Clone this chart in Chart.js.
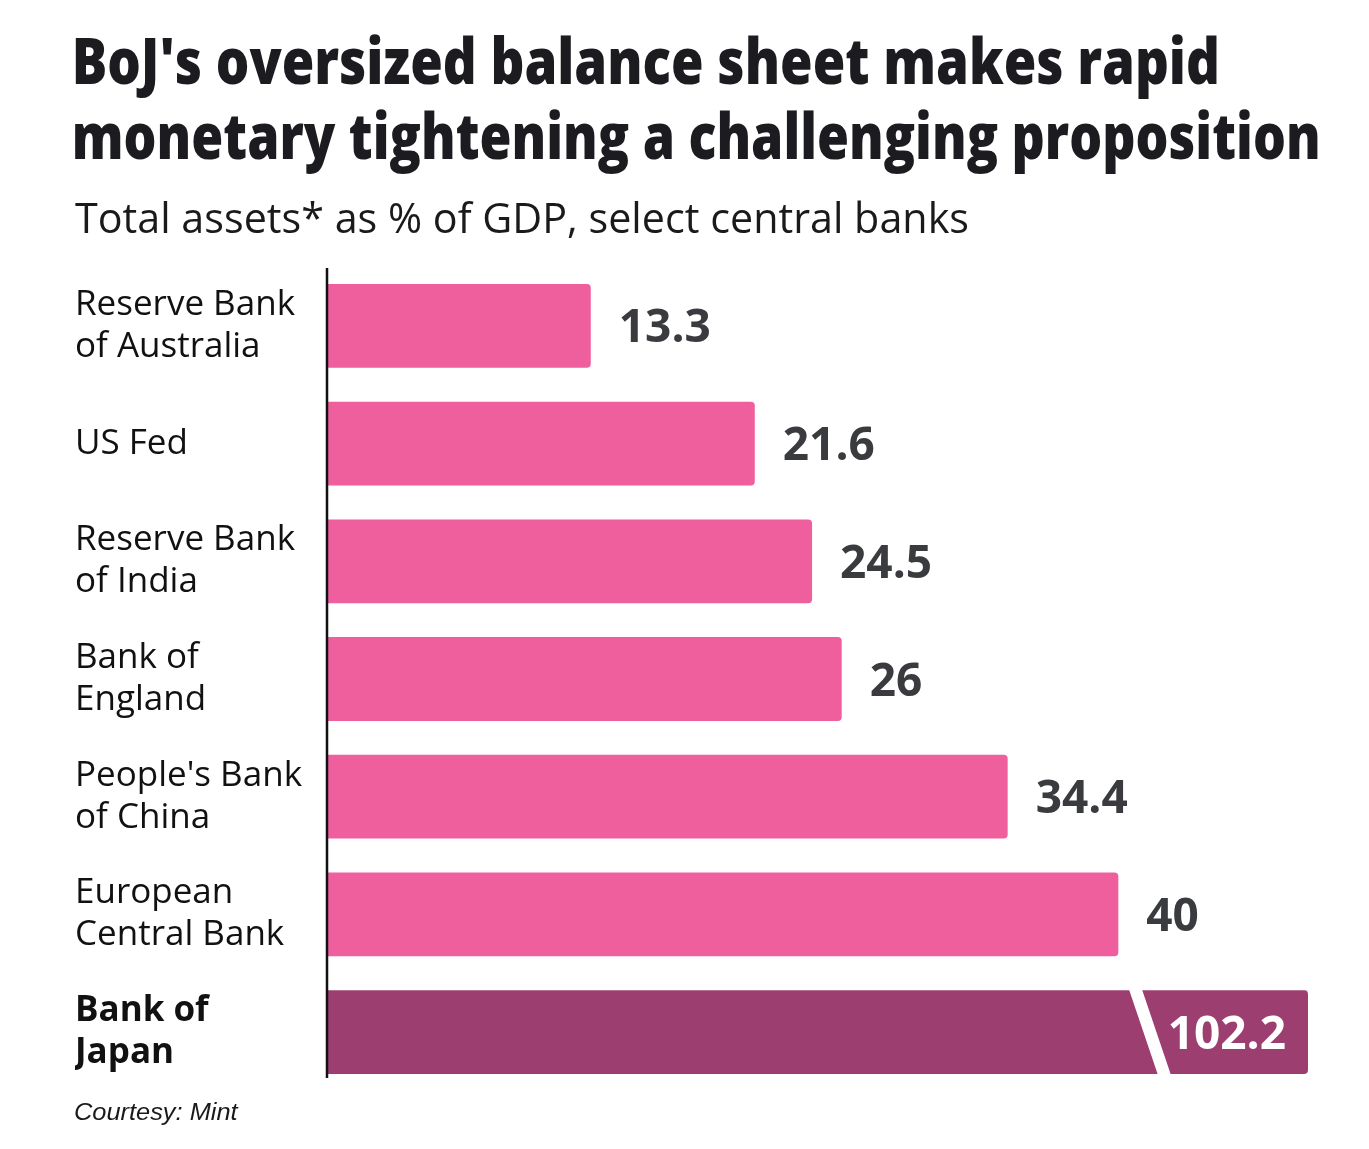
<!DOCTYPE html>
<html>
<head>
<meta charset="utf-8">
<script src="https://cdn.jsdelivr.net/npm/chart.js@4.4.1/dist/chart.umd.min.js"></script>
<style>
html,body{margin:0;padding:0;background:#ffffff;}
#wrap{position:relative;width:1369px;height:1149px;}
canvas{display:block;}
</style>
</head>
<body>
<div id="wrap"><canvas id="c" width="1369" height="1149"></canvas></div>
<script>
// ---- data ----
const titleLines = ["BoJ's oversized balance sheet makes rapid", "monetary tightening a challenging proposition"];
const subtitleText = "Total assets* as % of GDP, select central banks";
const sourceText = "Courtesy: Mint";
const categories = [
  ["Reserve Bank", "of Australia"],
  ["US Fed"],
  ["Reserve Bank", "of India"],
  ["Bank of", "England"],
  ["People's Bank", "of China"],
  ["European", "Central Bank"],
  ["Bank of", "Japan"]
];
const values = [13.3, 21.6, 24.5, 26, 34.4, 40, 102.2];
const valueLabels = ["13.3", "21.6", "24.5", "26", "34.4", "40", "102.2"];
const highlightIndex = 6;

// ---- style / scale settings ----
const axisMax = 49.6;     // visible range; the Bank of Japan bar is shown broken
const breakAt = 41.6;     // where the break mark sits on the broken bar
const pink = '#EF5F9D';
const plum = '#9D3E70';

function drawFitted(ctx, text, x, y, font, color, width) {
  ctx.save();
  ctx.font = font;
  ctx.fillStyle = color;
  ctx.textAlign = 'left';
  ctx.textBaseline = 'alphabetic';
  const m = ctx.measureText(text);
  const ink = m.actualBoundingBoxLeft + m.actualBoundingBoxRight;
  const s = width / ink;
  ctx.translate(x, y);
  ctx.scale(s, 1);
  ctx.fillText(text, m.actualBoundingBoxLeft, 0);
  ctx.restore();
}

const decorPlugin = {
  id: 'decor',
  afterDraw(chart) {
    const ctx = chart.ctx;
    drawFitted(ctx, titleLines[0], 75, 84, "800 63px 'Open Sans'", '#1c1b20', 1142);
    drawFitted(ctx, titleLines[1], 75, 159, "800 63px 'Open Sans'", '#1c1b20', 1243);
    drawFitted(ctx, subtitleText, 75, 233, "42px 'Open Sans'", '#1a1a1a', 893);
    drawFitted(ctx, sourceText, 75, 1120, "italic 24px 'Liberation Sans'", '#1a1a1a', 164);
  }
};

const barDecorPlugin = {
  id: 'barDecor',
  afterDatasetsDraw(chart) {
    const ctx = chart.ctx;
    const area = chart.chartArea;
    const meta = chart.getDatasetMeta(0);
    const xs = chart.scales.x;
    ctx.save();
    // break mark on the long bar
    const hb = meta.data[highlightIndex];
    const top = hb.y - hb.height / 2 - 1;
    const bot = hb.y + hb.height / 2 + 1;
    const xb = xs.getPixelForValue(breakAt);
    ctx.fillStyle = '#ffffff';
    ctx.beginPath();
    ctx.moveTo(xb - 21, top);
    ctx.lineTo(xb - 8, top);
    ctx.lineTo(xb + 21, bot);
    ctx.lineTo(xb + 8, bot);
    ctx.closePath();
    ctx.fill();
    // rounded right end of the broken bar (clipped at the axis edge)
    const r = 4;
    const right = area.right;
    ctx.fillStyle = '#ffffff';
    ctx.beginPath();
    ctx.moveTo(right, top + 1);
    ctx.lineTo(right - r, top + 1);
    ctx.arcTo(right, top + 1, right, top + 1 + r, r);
    ctx.closePath();
    ctx.fill();
    ctx.beginPath();
    ctx.moveTo(right, bot - 1);
    ctx.lineTo(right - r, bot - 1);
    ctx.arcTo(right, bot - 1, right, bot - 1 - r, r);
    ctx.closePath();
    ctx.fill();
    // value labels
    ctx.font = "bold 46px 'Open Sans'";
    ctx.textBaseline = 'alphabetic';
    meta.data.forEach((el, i) => {
      const yb = el.y + 16.5;
      if (i === highlightIndex) {
        ctx.fillStyle = '#ffffff';
        ctx.textAlign = 'right';
        ctx.fillText(valueLabels[i], Math.min(el.x, area.right) - 22, yb);
      } else {
        ctx.fillStyle = '#3a3b3f';
        ctx.textAlign = 'left';
        ctx.fillText(valueLabels[i], el.x + 28, yb);
      }
    });
    // axis line
    const last = meta.data[meta.data.length - 1];
    ctx.strokeStyle = '#111111';
    ctx.lineWidth = 2.5;
    ctx.beginPath();
    ctx.moveTo(area.left - 1, area.top + 1);
    ctx.lineTo(area.left - 1, last.y + last.height / 2 + 4);
    ctx.stroke();
    ctx.restore();
  }
};

new Chart(document.getElementById('c'), {
  type: 'bar',
  data: {
    labels: categories,
    datasets: [{
      data: values,
      backgroundColor: values.map((v, i) => i === highlightIndex ? plum : pink),
      borderRadius: 4,
      borderSkipped: 'start',
      categoryPercentage: 1,
      barPercentage: 0.712,
      clip: 0
    }]
  },
  options: {
    indexAxis: 'y',
    responsive: false,
    animation: false,
    devicePixelRatio: 1,
    layout: { padding: { top: 267, bottom: 58, left: 75, right: 61 } },
    plugins: {
      legend: { display: false },
      tooltip: { enabled: false }
    },
    scales: {
      x: { display: false, min: 0, max: axisMax },
      y: {
        grid: { display: false },
        border: { display: false },
        afterFit(scale) { scale.width = 253; },
        ticks: {
          crossAlign: 'far',
          color: '#111111',
          padding: 0,
          font: (ctx) => ({
            family: "'Open Sans'",
            size: 35,
            weight: ctx.index === highlightIndex ? 'bold' : 'normal',
            lineHeight: 1.2
          })
        }
      }
    }
  },
  plugins: [barDecorPlugin, decorPlugin]
});
</script>
</body>
</html>
